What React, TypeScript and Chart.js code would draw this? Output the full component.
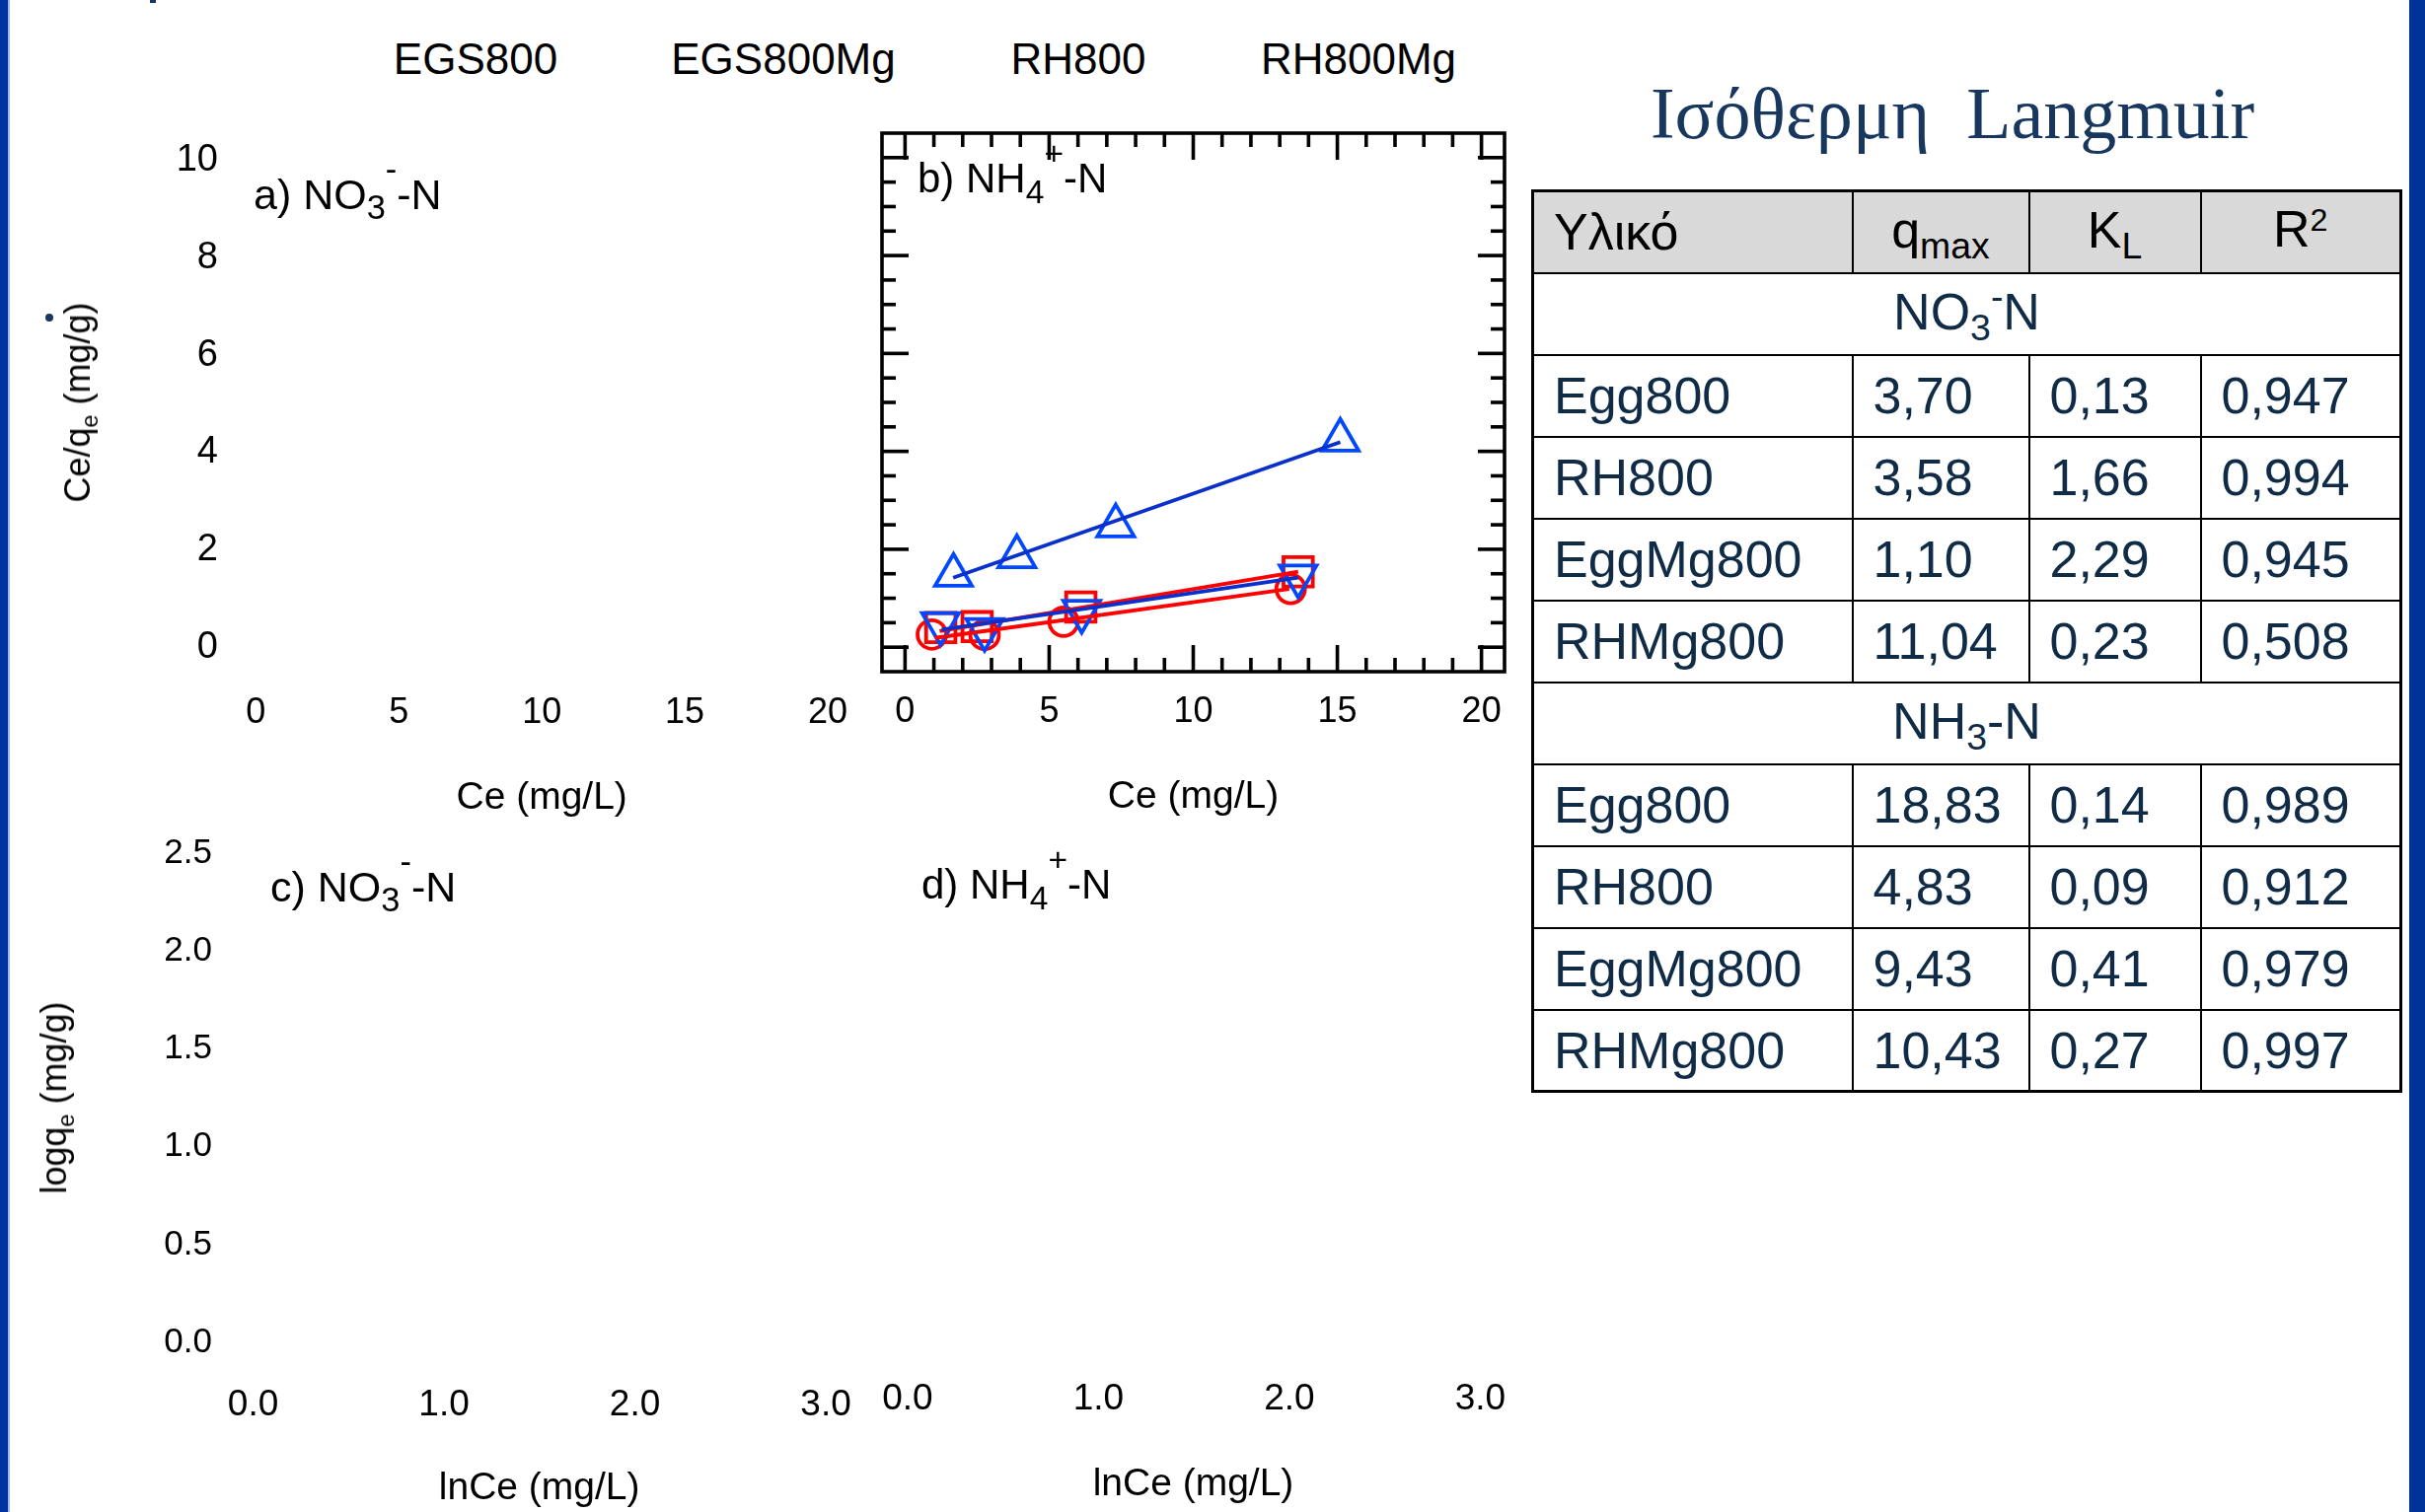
import React, { useEffect, useRef } from 'react';
import { Chart, registerables } from 'chart.js';

Chart.register(...registerables);

const FONT = "'Liberation Sans', Arial, Helvetica, sans-serif";
const SERIF = "'Liberation Serif', 'Times New Roman', serif";
const NAVY = '#0f2b46';
const TITLE_NAVY = '#17375e';
const RED = '#ff0000';
const BLUE_MARK = '#0048ff';
const BLUE_LINE = '#0a30cc';

// ---- legend / series names ----
const seriesNames = ['EGS800', 'EGS800Mg', 'RH800', 'RH800Mg'];

// ---- panel b : Ce (mg/L) vs Ce/qe (mg/g) ----
const egs800Ce = [0.93, 2.76, 5.5, 13.38];
const egs800Ratio = [0.26, 0.25, 0.52, 1.19];
const egs800MgCe = [1.24, 2.5, 6.1, 13.64];
const egs800MgRatio = [0.4, 0.42, 0.82, 1.54];
const rh800Ce = [1.68, 3.88, 7.31, 15.1];
const rh800Ratio = [1.47, 1.85, 2.48, 4.23];
const rh800MgCe = [1.23, 2.76, 6.13, 13.64];
const rh800MgRatio = [0.48, 0.36, 0.73, 1.45];

// fitted lines (start, end)
const egs800FitCe = [1.04, 13.33];
const egs800FitRatio = [0.19, 1.19];
const egs800MgFitCe = [1.2, 13.64];
const egs800MgFitRatio = [0.33, 1.54];
const rh800FitCe = [1.67, 15.1];
const rh800FitRatio = [1.42, 4.19];
const rh800MgFitCe = [1.27, 13.64];
const rh800MgFitRatio = [0.36, 1.42];

// ---- ticks ----
const ceTicks = [0, 5, 10, 15, 20];
const ceMinorTicks = [1, 2, 3, 4, 6, 7, 8, 9, 11, 12, 13, 14, 16, 17, 18, 19];
const ratioTicks = [0, 2, 4, 6, 8, 10];
const ratioMinorTicks = [0.5, 1, 1.5, 2.5, 3, 3.5, 4.5, 5, 5.5, 6.5, 7, 7.5, 8.5, 9, 9.5];
const logqTicks = [0, 0.5, 1, 1.5, 2, 2.5];
const lnCeTicks = [0, 1, 2, 3];

// ---- table ----
const tableMaterials = ['Egg800', 'RH800', 'EggMg800', 'RHMg800'];
const no3Qmax = ['3,70', '3,58', '1,10', '11,04'];
const no3KL = ['0,13', '1,66', '2,29', '0,23'];
const no3R2 = ['0,947', '0,994', '0,945', '0,508'];
const nh3Qmax = ['18,83', '4,83', '9,43', '10,43'];
const nh3KL = ['0,14', '0,09', '0,41', '0,27'];
const nh3R2 = ['0,989', '0,912', '0,979', '0,997'];

const pts = (xs: number[], ys: number[]) => xs.map((x, i) => ({ x, y: ys[i] }));
const fixedTicks = (values: number[]) => (scale: any) => {
  scale.ticks = values.map((v) => ({ value: v }));
};
const font = (size: number) => ({ family: FONT, size, weight: 'normal' as const });

const frameTicksPlugin = {
  id: 'frameTicks',
  afterDatasetsDraw(chart: any) {
    const { ctx, chartArea: a, scales } = chart;
    const x = scales.x;
    const y = scales.y;
    ctx.save();
    ctx.strokeStyle = '#000';
    ctx.lineWidth = 3.6;
    ctx.lineCap = 'butt';
    const seg = (x1: number, y1: number, x2: number, y2: number) => {
      ctx.beginPath();
      ctx.moveTo(x1, y1);
      ctx.lineTo(x2, y2);
      ctx.stroke();
    };
    const major = 27;
    const minor = 14;
    ceTicks.forEach((v) => {
      const p = x.getPixelForValue(v);
      seg(p, a.top, p, a.top + major);
      seg(p, a.bottom, p, a.bottom - major);
    });
    ceMinorTicks.forEach((v) => {
      const p = x.getPixelForValue(v);
      seg(p, a.top, p, a.top + minor);
      seg(p, a.bottom, p, a.bottom - minor);
    });
    ratioTicks.forEach((v) => {
      const p = y.getPixelForValue(v);
      seg(a.left, p, a.left + major, p);
      seg(a.right, p, a.right - major, p);
    });
    ratioMinorTicks.forEach((v) => {
      const p = y.getPixelForValue(v);
      seg(a.left, p, a.left + minor, p);
      seg(a.right, p, a.right - minor, p);
    });
    ctx.lineJoin = 'miter';
    ctx.strokeRect(a.left, a.top, a.right - a.left, a.bottom - a.top);
    ctx.restore();
  },
};

const hidden = { display: false, drawTicks: false };

function xAxis(min: number, max: number, ticks: number[], fmt: (v: number) => string, tickSize: number, tickPad: number, height: number, title: string, titlePadBottom: number) {
  return {
    type: 'linear',
    min,
    max,
    afterBuildTicks: fixedTicks(ticks),
    afterFit: (s: any) => {
      s.height = height;
    },
    grid: hidden,
    border: { display: false },
    ticks: {
      font: font(tickSize),
      color: '#000',
      padding: tickPad,
      maxRotation: 0,
      minRotation: 0,
      autoSkip: false,
      callback: (v: any) => fmt(Number(v)),
    },
    title: {
      display: true,
      text: title,
      color: '#000',
      font: font(39),
      padding: { top: 0, bottom: titlePadBottom },
    },
  };
}

function yAxis(min: number, max: number, ticks: number[], fmt: (v: number) => string, tickSize: number, tickPad: number, width: number) {
  return {
    type: 'linear',
    min,
    max,
    afterBuildTicks: fixedTicks(ticks),
    afterFit: (s: any) => {
      s.width = width;
    },
    grid: hidden,
    border: { display: false },
    ticks: {
      font: font(tickSize),
      color: '#000',
      padding: tickPad,
      autoSkip: false,
      callback: (v: any) => fmt(Number(v)),
    },
  };
}

const baseOptions = (padding: any) => ({
  responsive: false,
  animation: false,
  events: [],
  layout: { padding, autoPadding: false },
  plugins: { legend: { display: false }, tooltip: { enabled: false } },
});

const intFmt = (v: number) => String(v);
const oneDec = (v: number) => v.toFixed(1);

function makeA() {
  return {
    type: 'scatter',
    data: { datasets: [] },
    options: {
      ...baseOptions({ left: 0, right: 13, top: 35, bottom: 0 }),
      scales: {
        x: xAxis(-0.8, 20.8, ceTicks, intFmt, 36, 20.4, 179, 'Ce (mg/L)', 27.6),
        y: yAxis(-0.5, 10.5, ratioTicks, intFmt, 38, 15, 226),
      },
    },
  };
}

function lineSet(xs: number[], ys: number[], color: string, order: number) {
  return {
    data: pts(xs, ys),
    showLine: true,
    borderColor: color,
    borderWidth: 3.8,
    pointRadius: 0,
    fill: false,
    order,
  };
}

function markerSet(label: string, xs: number[], ys: number[], color: string, style: string, radius: number, rotation: number, order: number) {
  return {
    label,
    data: pts(xs, ys),
    showLine: false,
    pointStyle: style,
    pointRadius: radius,
    pointRotation: rotation,
    borderColor: color,
    pointBorderColor: color,
    backgroundColor: 'rgba(0,0,0,0)',
    pointBackgroundColor: 'rgba(0,0,0,0)',
    borderWidth: 3.8,
    pointBorderWidth: 3.8,
    order,
  };
}

function makeB() {
  return {
    type: 'scatter',
    data: {
      datasets: [
        lineSet(rh800FitCe, rh800FitRatio, BLUE_LINE, 0),
        lineSet(rh800MgFitCe, rh800MgFitRatio, BLUE_LINE, 1),
        lineSet(egs800MgFitCe, egs800MgFitRatio, RED, 2),
        lineSet(egs800FitCe, egs800FitRatio, RED, 3),
        markerSet(seriesNames[3], rh800MgCe, rh800MgRatio, BLUE_MARK, 'triangle', 21.5, 180, 4),
        markerSet(seriesNames[2], rh800Ce, rh800Ratio, BLUE_MARK, 'triangle', 21.5, 0, 5),
        markerSet(seriesNames[1], egs800MgCe, egs800MgRatio, RED, 'rect', 21, 0, 6),
        markerSet(seriesNames[0], egs800Ce, egs800Ratio, RED, 'circle', 14.5, 0, 7),
      ],
    },
    options: {
      ...baseOptions({ left: 14, right: 17, top: 35, bottom: 0 }),
      scales: {
        x: xAxis(-0.8, 20.8, ceTicks, intFmt, 36, 19.4, 179, 'Ce (mg/L)', 28.6),
        y: { type: 'linear', display: false, min: -0.5, max: 10.5 },
      },
    },
    plugins: [frameTicksPlugin],
  };
}

function makeC() {
  return {
    type: 'scatter',
    data: { datasets: [] },
    options: {
      ...baseOptions({ left: 0, right: 18, top: 40.3, bottom: 0 }),
      scales: {
        x: xAxis(-0.127, 3.125, lnCeTicks, oneDec, 37, 16.5, 147.1, 'lnCe (mg/L)', 0),
        y: yAxis(-0.125, 2.625, logqTicks, oneDec, 35, 17, 222),
      },
    },
  };
}

function makeD() {
  return {
    type: 'scatter',
    data: { datasets: [] },
    options: {
      ...baseOptions({ left: 14, right: 17, top: 40.3, bottom: 0 }),
      scales: {
        x: xAxis(-0.134, 3.127, lnCeTicks, oneDec, 37, 10.5, 147.1, 'lnCe (mg/L)', 4.8),
        y: { type: 'linear', display: false, min: -0.125, max: 2.625 },
      },
    },
  };
}

function ChartBox({ left, top, width, height, make }: { left: number; top: number; width: number; height: number; make: () => any }) {
  const ref = useRef<HTMLCanvasElement>(null);
  useEffect(() => {
    const chart = new Chart(ref.current as HTMLCanvasElement, make());
    return () => chart.destroy();
  }, []);
  return <canvas ref={ref} width={width} height={height} style={{ position: 'absolute', left, top, width, height }} />;
}

function Label({ x, baseline, size, family = FONT, color = '#000', center = false, children }: any) {
  const ratio = family === SERIF ? 0.8375 : 0.8465;
  return (
    <div
      style={{
        position: 'absolute',
        left: x,
        top: baseline - ratio * size,
        fontSize: size,
        lineHeight: `${size}px`,
        fontFamily: family,
        color,
        whiteSpace: 'pre',
        transform: center ? 'translateX(-50%)' : undefined,
      }}
    >
      {children}
    </div>
  );
}

const Sub = ({ children, s = 0.8, dy = 0.25 }: any) => (
  <span style={{ fontSize: `${s}em`, position: 'relative', top: `${dy / s}em` }}>{children}</span>
);
const Sup = ({ children, s = 0.8, dy = 0.67 }: any) => (
  <span style={{ fontSize: `${s}em`, position: 'relative', top: `${-dy / s}em` }}>{children}</span>
);

function VText({ cx, cy, size, children }: any) {
  return (
    <div
      style={{
        position: 'absolute',
        left: cx,
        top: cy,
        fontSize: size,
        lineHeight: `${size}px`,
        fontFamily: FONT,
        color: '#000',
        whiteSpace: 'nowrap',
        transform: 'translate(-50%, -50%) rotate(-90deg)',
      }}
    >
      {children}
    </div>
  );
}

const legendCenters = [482, 794, 1093, 1377];

function DataTable() {
  const cell: any = {
    border: '2px solid #000',
    padding: '0 0 0 20px',
    height: 83,
    boxSizing: 'border-box',
    verticalAlign: 'middle',
    lineHeight: '52px',
    whiteSpace: 'nowrap',
    textAlign: 'left',
  };
  const head: any = { ...cell, background: '#d9d9d9', color: '#000' };
  const headC: any = { ...head, textAlign: 'center', padding: 0 };
  const section: any = { ...cell, textAlign: 'center', padding: 0 };
  const rows = (q: string[], k: string[], r: string[]) =>
    tableMaterials.map((m, i) => (
      <tr key={m + q[i]}>
        <td style={cell}>{m}</td>
        <td style={cell}>{q[i]}</td>
        <td style={cell}>{k[i]}</td>
        <td style={cell}>{r[i]}</td>
      </tr>
    ));
  return (
    <table
      style={{
        position: 'absolute',
        left: 1552,
        top: 192,
        width: 880,
        borderCollapse: 'collapse',
        tableLayout: 'fixed',
        border: '3px solid #000',
        fontFamily: FONT,
        fontSize: 52,
        color: NAVY,
      }}
    >
      <colgroup>
        <col style={{ width: 324 }} />
        <col style={{ width: 179 }} />
        <col style={{ width: 174 }} />
        <col style={{ width: 203 }} />
      </colgroup>
      <tbody>
        <tr>
          <td style={head}>Υλικό</td>
          <td style={headC}>
            q<Sub s={0.72} dy={0.22}>max</Sub>
          </td>
          <td style={headC}>
            K<Sub s={0.72} dy={0.22}>L</Sub>
          </td>
          <td style={headC}>
            R<Sup s={0.62} dy={0.3}>2</Sup>
          </td>
        </tr>
        <tr>
          <td style={section} colSpan={4}>
            NO<Sub s={0.72} dy={0.22}>3</Sub>
            <Sup s={0.72} dy={0.4}>-</Sup>N
          </td>
        </tr>
        {rows(no3Qmax, no3KL, no3R2)}
        <tr>
          <td style={section} colSpan={4}>
            NH<Sub s={0.72} dy={0.22}>3</Sub>-N
          </td>
        </tr>
        {rows(nh3Qmax, nh3KL, nh3R2)}
      </tbody>
    </table>
  );
}

export default function App() {
  return (
    <div
      style={{
        position: 'absolute',
        left: 0,
        top: 0,
        width: 2458,
        height: 1533,
        overflow: 'hidden',
        background: '#ffffff',
        fontFamily: FONT,
      }}
    >
      {/* slide side bars */}
      <div style={{ position: 'absolute', left: 0, top: 0, width: 8, height: 1533, background: '#0033a0' }} />
      <div style={{ position: 'absolute', left: 8, top: 0, width: 2, height: 1533, background: '#9fb6e6' }} />
      <div style={{ position: 'absolute', left: 2442, top: 0, width: 16, height: 1533, background: '#003399' }} />
      <div style={{ position: 'absolute', left: 152, top: 0, width: 6, height: 3, background: TITLE_NAVY }} />
      <div style={{ position: 'absolute', left: 46, top: 318, width: 8, height: 8, borderRadius: 4, background: TITLE_NAVY }} />

      {/* legend names */}
      {seriesNames.map((n, i) => (
        <Label key={n} x={legendCenters[i]} baseline={75} size={44} center>
          {n}
        </Label>
      ))}

      <ChartBox left={10} top={100} width={870} height={760} make={makeA} />
      <ChartBox left={880} top={100} width={662} height={760} make={makeB} />
      <ChartBox left={10} top={800} width={870} height={733} make={makeC} />
      <ChartBox left={880} top={800} width={662} height={733} make={makeD} />

      {/* panel labels */}
      <Label x={257} baseline={212} size={43}>
        a) NO<Sub>3</Sub>
        <Sup>-</Sup>-N
      </Label>
      <Label x={930} baseline={196} size={42}>
        b) NH<Sub>4</Sub>
        <Sup>+</Sup>-N
      </Label>
      <Label x={274} baseline={914} size={43}>
        c) NO<Sub>3</Sub>
        <Sup>-</Sup>-N
      </Label>
      <Label x={934} baseline={912} size={42}>
        d) NH<Sub>4</Sub>
        <Sup>+</Sup>-N
      </Label>

      {/* y axis titles */}
      <VText cx={81} cy={408} size={36}>
        Ce/q<Sub s={0.65} dy={0.22}>e</Sub> (mg/g)
      </VText>
      <VText cx={57} cy={1113} size={36}>
        logq<Sub s={0.65} dy={0.22}>e</Sub> (mg/g)
      </VText>

      {/* title and table */}
      <Label x={1979} baseline={140} size={74} family={SERIF} color={TITLE_NAVY} center>
        {'Ισόθερμη  Langmuir'}
      </Label>
      <DataTable />
    </div>
  );
}
